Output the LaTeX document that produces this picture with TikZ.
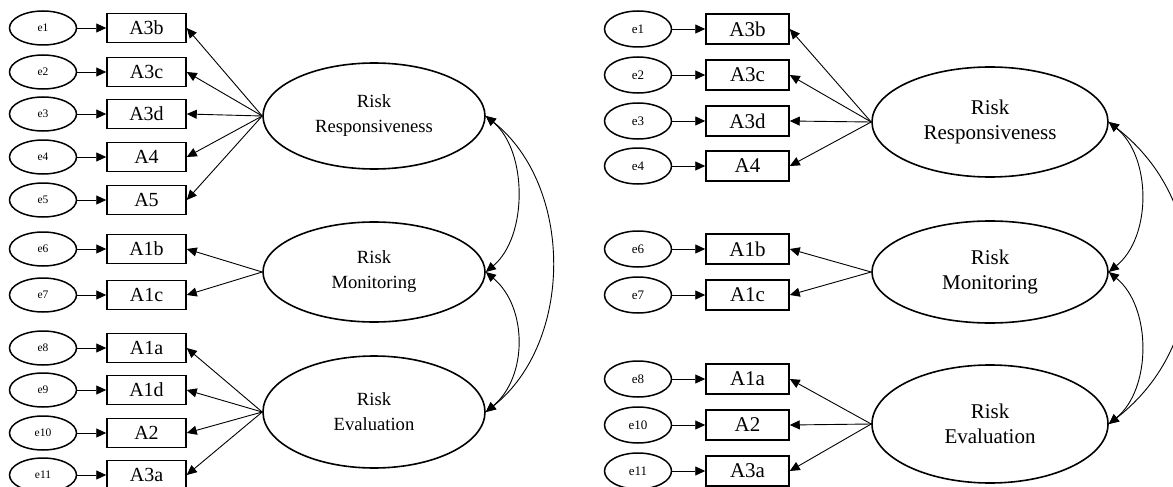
\documentclass[tikz,border=0pt]{standalone}
\usepackage{fontspec}
\setmainfont{Liberation Serif}
\usetikzlibrary{
  	shapes.geometric,
  	arrows.meta,
  	positioning
  }
\tikzstyle{errL}=[ellipse,draw,line width=1.5pt,minimum width=67pt,minimum height=34pt,inner sep=0pt,font=\fontsize{11.5}{12}\selectfont]
\tikzstyle{errR}=[errL,minimum height=36pt,font=\fontsize{13}{14}\selectfont]
\tikzstyle{obsL}=[rectangle,draw,line width=1.5pt,minimum width=79pt,minimum height=29pt,inner sep=0pt,font=\fontsize{20}{22}\selectfont]
\tikzstyle{obsR}=[obsL,minimum width=83pt,minimum height=30pt,font=\fontsize{21}{23}\selectfont]
\tikzstyle{latL}=[ellipse,draw,line width=1.6pt,minimum width=222pt,minimum height=106pt,inner sep=0pt,align=center,font=\fontsize{18.6}{25}\selectfont]
\tikzstyle{latR}=[latL,minimum width=236pt,minimum height=110pt,font=\fontsize{21}{25}\selectfont]
\tikzstyle{load}=[line width=0.9pt,-{Triangle[length=10pt,width=9pt]}]
\tikzstyle{cov}=[line width=0.9pt,{Triangle[length=10pt,width=9pt]}-{Triangle[length=10pt,width=9pt]}]

\begin{document}
\begin{tikzpicture}[x=1pt,y=-1pt]
\clip (0,0) rectangle (1173,487);
% left model
\foreach \n/\y/\t in {1/28/A3b,2/72/A3c,3/114/A3d,4/157/A4,5/200/A5,6/249/A1b,
                      7/295/A1c,8/348/A1a,9/390/A1d,10/433/A2,11/475/A3a}{
  \node[errL] (eL\n) at (43,\y) {e\n};
  \node[obsL] (bL\n) at (146.5,\y) {\t};
  \draw[load] (eL\n) -- (bL\n);
}
\node[latL] (rrL) at (374,116) {Risk\\Responsiveness};
\node[latL,minimum height=100pt] (rmL) at (374,272) {Risk\\Monitoring};
\node[latL,minimum height=112pt] (reL) at (374,412) {Risk\\Evaluation};
\foreach \n in {1,...,5} \draw[load] (rrL.west) -- (bL\n.east);
\foreach \n in {6,7} \draw[load] (rmL.west) -- (bL\n.east);
\foreach \n in {8,...,11} \draw[load] (reL.west) -- (bL\n.east);
\draw[cov] (rrL.east) .. controls +(42,35) and +(42,-35) .. (rmL.east);
\draw[cov] (rmL.east) .. controls +(42,35) and +(42,-35) .. (reL.east);
\draw[cov] (rrL.east) .. controls +(88,70) and +(88,-70) .. (reL.east);
% right model
\foreach \n/\y/\t in {1/29/A3b,2/75/A3c,3/121/A3d,4/166/A4,6/249/A1b,
                      7/295/A1c,8/379/A1a,10/425/A2,11/471/A3a}{
  \node[errR] (eR\n) at (638,\y) {e\n};
  \node[obsR] (bR\n) at (747.5,\y) {\t};
  \draw[load] (eR\n) -- (bR\n);
}
\node[latR] (rrR) at (990,122) {Risk\\Responsiveness};
\node[latR,minimum height=102pt] (rmR) at (990,272) {Risk\\Monitoring};
\node[latR,minimum height=118pt] (reR) at (990,424) {Risk\\Evaluation};
\foreach \n in {1,...,4} \draw[load] (rrR.west) -- (bR\n.east);
\foreach \n in {6,7} \draw[load] (rmR.west) -- (bR\n.east);
\foreach \n in {8,10,11} \draw[load] (reR.west) -- (bR\n.east);
\draw[cov] (rrR.east) .. controls +(43,35) and +(43,-35) .. (rmR.east);
\draw[cov] (rmR.east) .. controls +(43,35) and +(43,-35) .. (reR.east);
\draw[cov] (rrR.east) .. controls +(103,80) and +(103,-80) .. (reR.east);
\end{tikzpicture}
\end{document}
